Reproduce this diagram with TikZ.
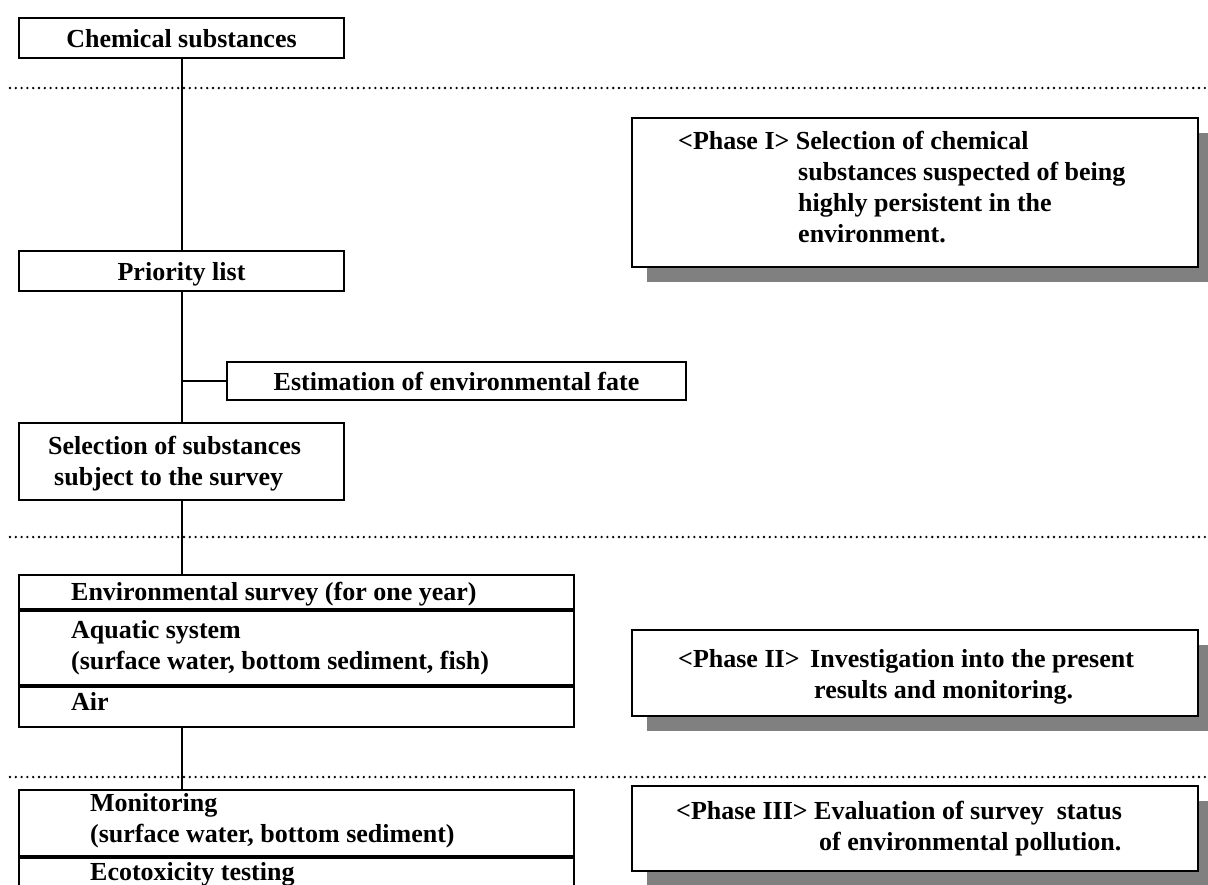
\documentclass[tikz,border=0pt]{standalone}
\usepackage{fontspec}
\setmainfont{Liberation Serif}
\usetikzlibrary{shadows}
\definecolor{shadowgray}{RGB}{128,128,128}

\begin{document}
\begin{tikzpicture}[x=1pt, y=-1pt,
    every node/.style={font=\fontsize{26}{31}\selectfont\bfseries},
    box/.style={draw, line width=2pt, fill=white, inner sep=0pt, anchor=north west},
    cbox/.style={box, text height=18pt, text depth=0pt},
    phasebox/.style={box, drop shadow={shadow xshift=15pt, shadow yshift=-15pt, fill=shadowgray, opacity=1}},
    txt/.style={anchor=base west, inner sep=0pt},
    link/.style={line width=2pt},
    sep/.style={line width=2.6pt, dash pattern=on 0pt off 5.8pt, line cap=round}]
        \useasboundingbox (0,0) rectangle (1208,884);

        % left column
        \node[cbox, minimum width=325pt, minimum height=40pt] (chem) at (18,17) {Chemical substances};
        \node[cbox, minimum width=325pt, minimum height=40pt] (prio) at (18,250) {Priority list};
        \node[cbox, minimum width=459pt, minimum height=38pt] (est) at (226,361) {Estimation of environmental fate};
        \node[box, minimum width=325pt, minimum height=77pt] (sel) at (18,422) {};
        \node[txt] (sel1) at (48,454) {Selection of substances};
        \node[txt] (sel2) at (54,485) {subject to the survey};

        \node[box, minimum width=555pt, minimum height=34pt] (envhead) at (18,574) {};
        \node[box, minimum width=555pt, minimum height=74pt] (aqua) at (envhead.south west) {};
        \node[box, minimum width=555pt, minimum height=40pt] (air) at (aqua.south west) {};
        \node[txt] (tenv) at (71,600) {Environmental survey (for one year)};
        \node[txt] (taqua1) at (71,638) {Aquatic system};
        \node[txt] (taqua2) at (71,669) {(surface water, bottom sediment, fish)};
        \node[txt] (tair) at (71,710) {Air};

        \node[box, minimum width=555pt, minimum height=66pt] (mon) at (18,789) {};
        \node[box, minimum width=555pt, minimum height=40pt] (eco) at (mon.south west) {};
        \node[txt] (tmon1) at (90,811) {Monitoring};
        \node[txt] (tmon2) at (90,842) {(surface water, bottom sediment)};
        \node[txt] (teco) at (90,880) {Ecotoxicity testing};

        \draw[link] (chem.south) -- (prio.north);
        \draw[link] (prio.south) -- (sel.north);
        \draw[link] (prio.south |- est.west) -- (est.west);
        \draw[link] (sel.south) -- (sel.south |- envhead.north);
        \draw[link] (sel.south |- air.south) -- (sel.south |- mon.north);

        % phase separators
        \coordinate (d1l) at (10,88);  \coordinate (d1r) at (1208,88);
        \coordinate (d2l) at (10,537); \coordinate (d2r) at (1208,537);
        \coordinate (d3l) at (10,777); \coordinate (d3r) at (1208,777);
        \draw[sep] (d1l) -- (d1r);
        \draw[sep] (d2l) -- (d2r);
        \draw[sep] (d3l) -- (d3r);

        % phase boxes
        \node[phasebox, minimum width=566pt, minimum height=149pt] (ph1) at (631,117) {};
        \node[txt] (ph1a) at (678,149) {<Phase I> Selection of chemical};
        \node[txt] (ph1b) at (798,180) {substances suspected of being};
        \node[txt] (ph1c) at (798,211) {highly persistent in the};
        \node[txt] (ph1d) at (798,242) {environment.};

        \node[phasebox, minimum width=566pt, minimum height=86pt] (ph2) at (631,629) {};
        \node[txt] (ph2a) at (678,667) {<Phase II>};
        \node[txt] (ph2b) at (810,667) {Investigation into the present};
        \node[txt] (ph2c) at (814,698) {results and monitoring.};

        \node[phasebox, minimum width=566pt, minimum height=85pt] (ph3) at (631,785) {};
        \node[txt] (ph3a) at (676,819) {<Phase III> Evaluation of survey~ status};
        \node[txt] (ph3b) at (819,850) {of environmental pollution.};
    \end{tikzpicture}
\end{document}
